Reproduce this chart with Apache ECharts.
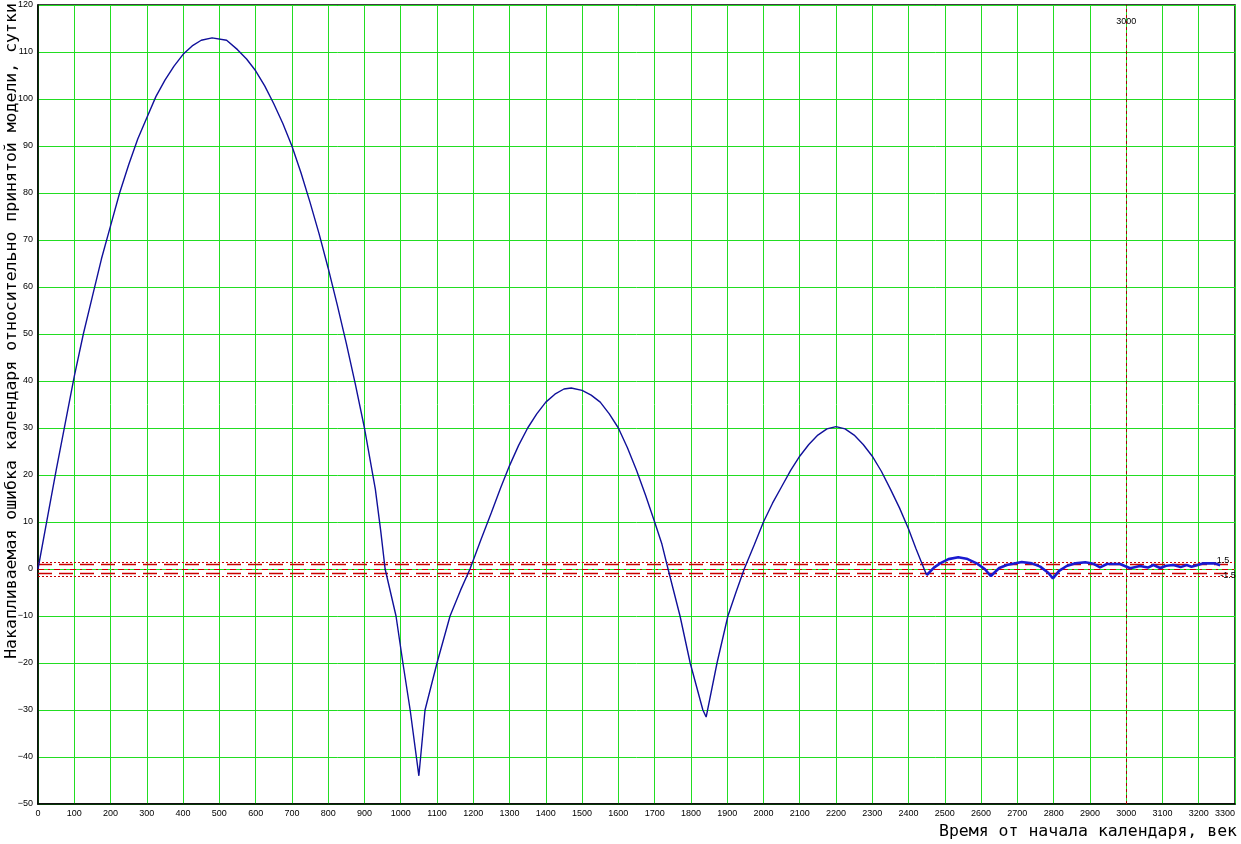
<!DOCTYPE html>
<html><head><meta charset="utf-8">
<script src="https://cdn.jsdelivr.net/npm/echarts@6/dist/echarts.min.js"></script>
<style>html,body{margin:0;padding:0;background:#fff}#c{width:1241px;height:844px}</style>
</head><body><div id="c"></div>
<script>
// Main curve (years, accumulated error in days)
const mainYears  = [0,25,50,75,100,125,150,175,200,225,250,275,300,325,350,375,400,425,450,480,520,550,575,600,625,650,675,700,725,750,775,800,825,850,875,900,915,930,945,957,987,1006,1026,1050,1067,1100,1136,1165,1191,1220,1250,1275,1300,1325,1350,1375,1400,1425,1450,1470,1500,1525,1550,1575,1600,1625,1650,1675,1700,1720,1737,1770,1798,1833,1842,1872,1902,1925,1947,1975,2000,2025,2050,2075,2100,2125,2150,2175,2200,2225,2250,2275,2300,2325,2350,2375,2400,2420,2443,2450];
const mainValues = [0,10.5,21,31,41,50,58,66,73,80,86,91.5,96,100.5,104,107,109.5,111.3,112.5,113,112.5,110.5,108.5,106,102.8,99,94.8,90,84.3,78,71.3,64,56.2,48,39.3,30,23.5,17,8,0,-10,-20,-30,-44,-30,-20,-10,-4.5,0,6,12,17.2,22,26.3,30,33,35.5,37.2,38.3,38.5,38,37,35.5,33,30,25.8,21,15.7,10,5.3,0,-10,-20,-30,-31.5,-20,-10,-4.8,0,5.2,10,14,17.5,21,24,26.5,28.5,29.8,30.3,29.8,28.5,26.5,24,20.8,17,13,8.5,4.4,0,-1.3];
// Tail of small oscillations
const tailYears  = [2450,2470,2487,2510,2537,2560,2588,2610,2627,2650,2671,2712,2740,2763,2785,2798,2815,2836,2860,2887,2910,2928,2947,2983,3011,3038,3060,3075,3094,3110,3130,3150,3167,3180,3195,3213,3245,3259];
const tailValues = [-1.3,0.3,1.2,2.1,2.5,2.2,1.2,0,-1.5,0.2,0.85,1.5,1.2,0.5,-0.8,-2.0,-0.4,0.64,1.2,1.42,1.1,0.36,1.06,1.06,0.15,0.64,0.3,0.85,0.2,0.7,0.85,0.4,0.85,0.5,0.8,1.2,1.2,0.8];
// Reference lines
const toleranceDotted = [1.5, -1.5];
const toleranceDashed = [1, -1];
const zeroLine = [0];
const markerYear = 3000;
const markerLabel = '3000';
const tolLabels = [{x:3267, y:1.8, text:'1.5'}, {x:3281, y:-1.3, text:'-1.5'}];
const xTitle = 'Время от начала календаря, век';
const yTitle = 'Накапливаемая ошибка календаря относительно принятой модели, сутки';

const zip = (a,b)=>a.map((v,i)=>[v,b[i]]);
const red = '#cc0000';

const chart = echarts.init(document.getElementById('c'), null, {renderer:'canvas'});
const lineMarks = [];
toleranceDotted.forEach(v=>lineMarks.push({yAxis:v, lineStyle:{type:[2,2], color:red, width:1}}));
toleranceDashed.forEach(v=>lineMarks.push({yAxis:v, lineStyle:{type:[14,7], color:red, width:1.3}}));
zeroLine.forEach(v=>lineMarks.push({yAxis:v, lineStyle:{type:[6,4,2,4], color:red, width:1}}));
lineMarks.push({xAxis:markerYear, lineStyle:{type:[3,3], color:'#aa0000', width:1}});

chart.setOption({
  animation:false,
  backgroundColor:'#fff',
  grid:{left:38, right:6, top:5, bottom:40, containLabel:false, outerBoundsMode:'none',
    show:true, borderColor:'#000', borderWidth:1.5, backgroundColor:'transparent'},
  xAxis:{type:'value', min:0, max:3300, interval:100,
    axisLine:{show:true, onZero:false, lineStyle:{color:'#000', width:1.5}},
    axisTick:{show:false},
    axisLabel:{color:'#000', fontSize:9, fontFamily:'Liberation Sans', margin:5,
      formatter:v=>String(v), alignMaxLabel:'right'},
    splitLine:{show:true, lineStyle:{color:'#22dd22', width:1}}},
  yAxis:{type:'value', min:-50, max:120, interval:10,
    axisLine:{show:true, onZero:false, lineStyle:{color:'#000', width:1.5}},
    axisTick:{show:false},
    axisLabel:{color:'#000', fontSize:9, fontFamily:'Liberation Sans', margin:5,
      formatter:v=>v<0?('\u2212'+Math.abs(v)):String(v)},
    splitLine:{show:true, lineStyle:{color:'#22dd22', width:1}}},
  series:[
    {type:'line', data:zip(mainYears, mainValues), symbol:'none', z:5,
      lineStyle:{color:'#10109a', width:1.4},
      markLine:{silent:true, symbol:'none', label:{show:false}, data:lineMarks},
      markPoint:{silent:true, symbol:'circle', symbolSize:0,
        label:{show:true, color:'#000', fontSize:9, fontFamily:'Liberation Sans', position:'inside'},
        data:[{coord:[markerYear,116.4], value:markerLabel}].concat(
          tolLabels.map(t=>({coord:[t.x,t.y], value:t.text})))}},
    {type:'line', data:zip(tailYears, tailValues), symbol:'none', z:6,
      lineStyle:{color:'#1a1ad0', width:2.6}}
  ],
  graphic:[
    {type:'text', x:12, y:331, rotation:Math.PI/2,
      style:{text:yTitle, fill:'#000', font:'16.5px "DejaVu Sans Mono"', textAlign:'center', textVerticalAlign:'middle'}},
    {type:'text', x:1237, y:832,
      style:{text:xTitle, fill:'#000', font:'16.5px "DejaVu Sans Mono"', textAlign:'right', textVerticalAlign:'middle'}}
  ]
});
</script></body></html>
